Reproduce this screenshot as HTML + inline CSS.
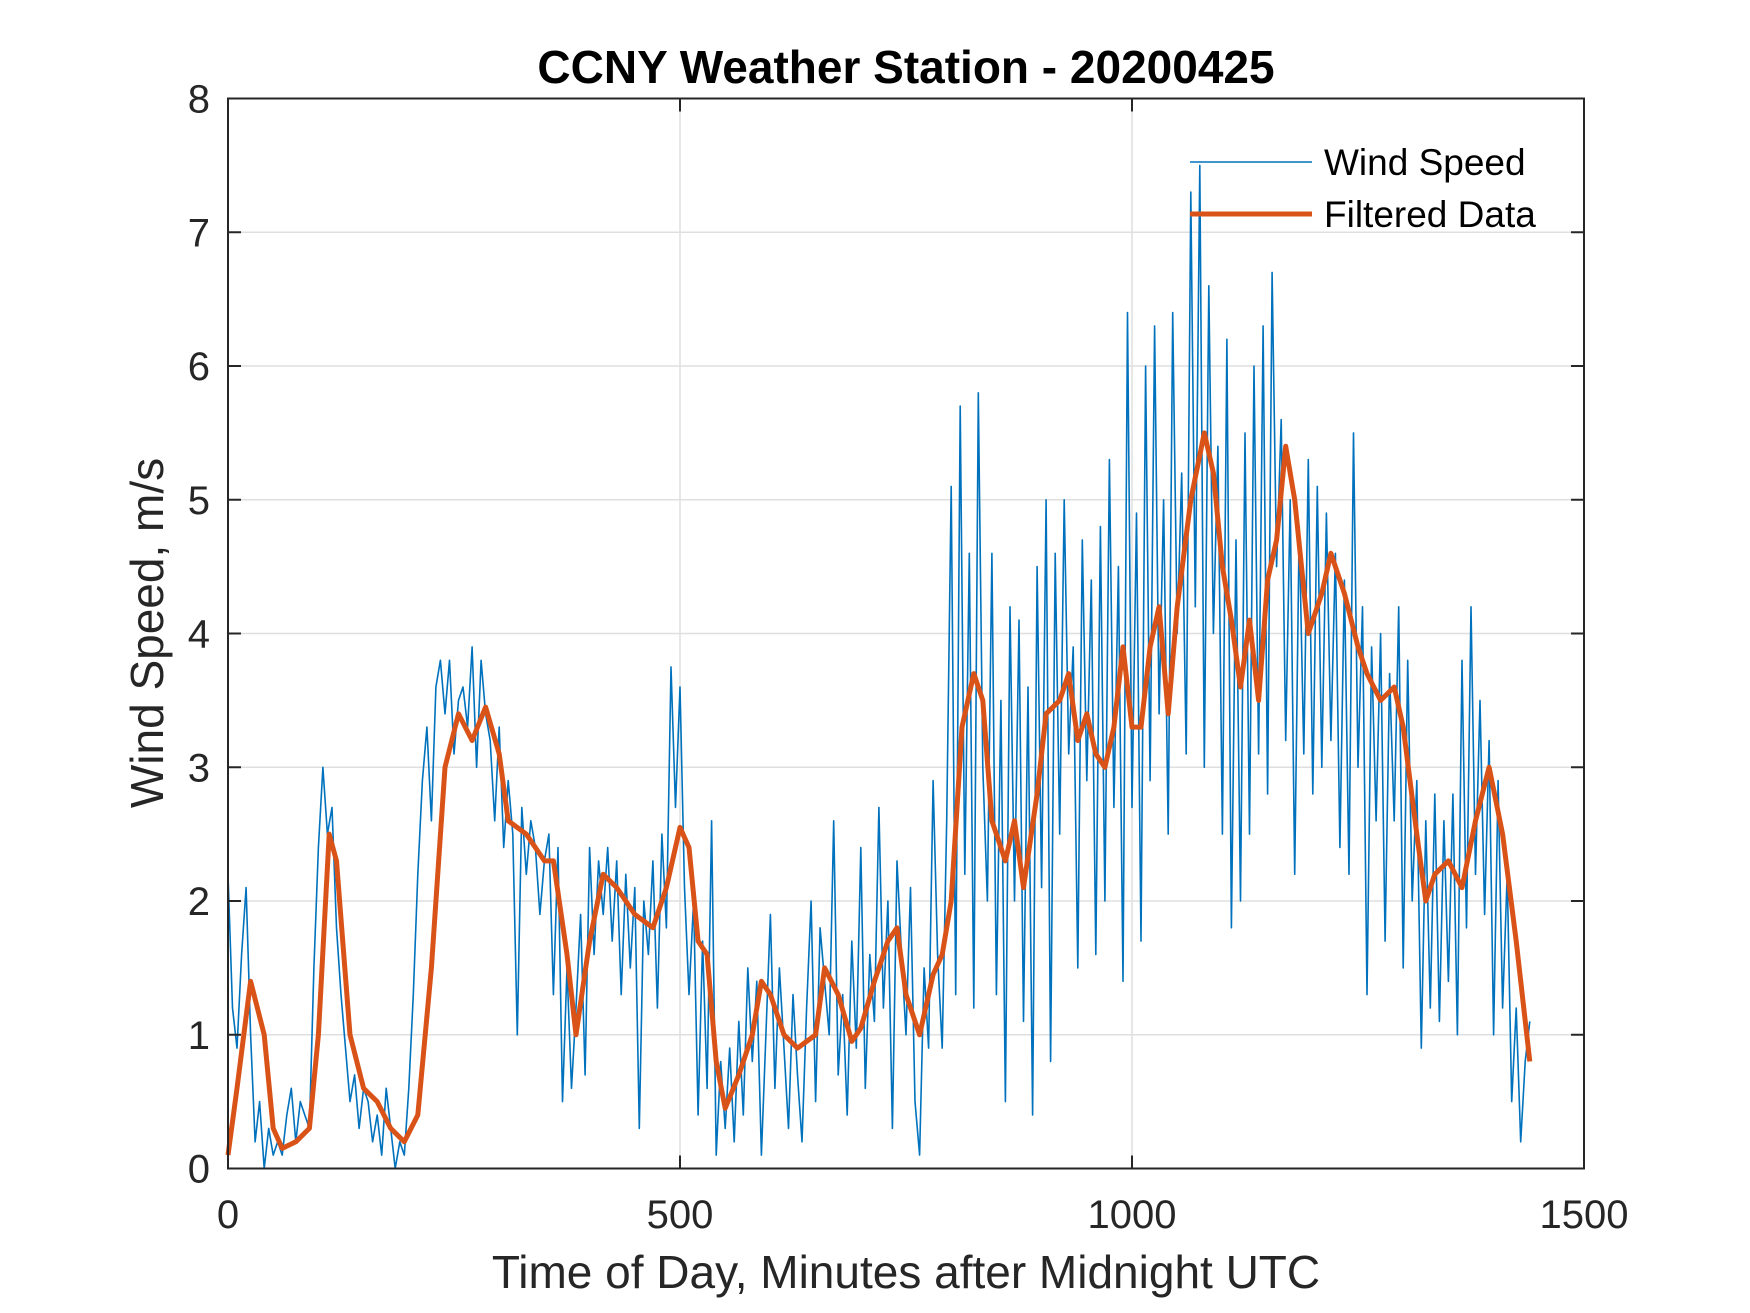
<!DOCTYPE html>
<html><head><meta charset="utf-8"><style>
html,body{margin:0;padding:0;background:#fff}
svg{display:block;font-family:"Liberation Sans",Arial,sans-serif}
</style></head><body>
<svg id="chart" width="1750" height="1313" viewBox="0 0 1750 1313" xmlns="http://www.w3.org/2000/svg">
<rect width="1750" height="1313" fill="#fff"/>
<g id="grid"></g>
<g id="series"></g>
<rect x="228" y="98.5" width="1356" height="1070" fill="none" stroke="#262626" stroke-width="2"/>
<g id="ticks"></g>
<text x="906" y="83" text-anchor="middle" font-size="46" font-weight="bold" fill="#000">CCNY Weather Station - 20200425</text>
<text x="906" y="1288" text-anchor="middle" font-size="46" fill="#262626">Time of Day, Minutes after Midnight UTC</text>
<text transform="translate(163,633) rotate(-90)" text-anchor="middle" font-size="46" fill="#262626">Wind Speed, m/s</text>
<g>
<line x1="1190" y1="162" x2="1312" y2="162" stroke="#0072BD" stroke-width="1.5"/>
<text x="1324" y="175" font-size="37" fill="#000">Wind Speed</text>
<line x1="1190" y1="214" x2="1312" y2="214" stroke="#D95319" stroke-width="5"/>
<text x="1324" y="227" font-size="37" fill="#000">Filtered Data</text>
</g>
</svg>
<script>
const xTicks=[0,500,1000,1500];
const yTicks=[0,1,2,3,4,5,6,7,8];
const rawStep=5;
const rawValues=[
2.2,1.2,0.9,1.6,2.1,1.0,0.2,0.5,0.0,0.3,0.1,0.2,
0.1,0.4,0.6,0.2,0.5,0.4,0.3,1.5,2.4,3.0,2.5,2.7,
1.8,1.3,0.9,0.5,0.7,0.3,0.6,0.5,0.2,0.4,0.1,0.6,
0.3,0.0,0.2,0.1,0.6,1.3,2.2,2.9,3.3,2.6,3.6,3.8,
3.4,3.8,3.1,3.5,3.6,3.3,3.9,3.0,3.8,3.4,3.2,2.6,
3.3,2.4,2.9,2.5,1.0,2.7,2.2,2.6,2.4,1.9,2.3,2.5,
1.3,2.4,0.5,1.5,0.6,1.2,1.9,0.7,2.4,1.6,2.3,1.9,
2.4,1.7,2.3,1.3,2.2,1.5,2.1,0.3,2.0,1.6,2.3,1.2,
2.5,1.8,3.75,2.7,3.6,2.1,1.3,2.0,0.4,1.7,0.6,2.6,
0.1,0.8,0.3,0.9,0.2,1.1,0.4,1.5,0.8,1.4,0.1,1.0,
1.9,0.6,1.5,0.9,0.3,1.3,0.7,0.2,1.2,2.0,0.5,1.8,
1.4,1.0,2.6,0.7,1.3,0.4,1.7,0.9,2.4,0.6,1.6,1.1,
2.7,1.2,2.0,0.3,2.3,1.6,1.0,2.1,0.5,0.1,1.5,0.9,
2.9,1.6,0.9,2.6,5.1,1.3,5.7,2.2,4.6,1.2,5.8,3.0,
2.0,4.6,1.3,3.5,0.5,4.2,2.0,4.1,1.1,3.6,0.4,4.5,
2.1,5.0,0.8,4.6,2.5,5.0,3.1,3.9,1.5,4.7,2.9,4.4,
1.6,4.8,2.0,5.3,2.7,4.5,1.4,6.4,2.7,4.9,1.7,6.0,
2.9,6.3,3.4,5.0,2.5,6.4,4.0,5.2,3.1,7.3,4.2,7.5,
3.0,6.6,4.0,5.4,2.5,6.2,1.8,4.7,2.0,5.5,2.5,6.0,
3.1,6.3,2.8,6.7,4.5,5.6,3.2,5.0,2.2,4.8,3.1,5.3,
2.8,5.1,3.0,4.9,3.2,4.6,2.4,4.4,2.2,5.5,3.0,4.2,
1.3,3.9,2.6,4.0,1.7,3.7,2.6,4.2,1.5,3.8,2.0,2.9,
0.9,2.6,1.2,2.8,1.1,2.6,1.4,2.8,1.0,3.8,1.8,4.2,
2.2,3.5,1.9,3.2,1.0,2.9,1.2,2.2,0.5,1.2,0.2,0.8,
1.1];
const filtT=[0,10,25,40,50,60,75,90,100,112,120,135,150,165,180,195,210,225,240,255,270,285,300,310,330,350,360,375,385,400,415,430,450,470,485,500,510,520,530,540,550,565,580,590,600,615,630,650,660,675,690,700,715,730,740,750,765,780,790,800,812,825,835,845,860,870,880,895,905,920,930,940,950,960,970,980,990,1000,1010,1020,1030,1040,1050,1065,1080,1090,1100,1110,1120,1130,1140,1150,1160,1170,1180,1195,1210,1220,1235,1250,1260,1275,1290,1300,1315,1325,1335,1350,1365,1380,1395,1410,1425,1440];
const filtV=[0.1,0.6,1.4,1.0,0.3,0.15,0.2,0.3,1.0,2.5,2.3,1.0,0.6,0.5,0.3,0.2,0.4,1.5,3.0,3.4,3.2,3.45,3.1,2.6,2.5,2.3,2.3,1.6,1.0,1.7,2.2,2.1,1.9,1.8,2.1,2.55,2.4,1.7,1.6,0.8,0.45,0.7,1.0,1.4,1.3,1.0,0.9,1.0,1.5,1.3,0.95,1.05,1.4,1.7,1.8,1.3,1.0,1.45,1.6,2.0,3.3,3.7,3.5,2.6,2.3,2.6,2.1,2.8,3.4,3.5,3.7,3.2,3.4,3.1,3.0,3.3,3.9,3.3,3.3,3.9,4.2,3.4,4.2,5.0,5.5,5.2,4.5,4.1,3.6,4.1,3.5,4.4,4.7,5.4,5.0,4.0,4.3,4.6,4.3,3.9,3.7,3.5,3.6,3.3,2.5,2.0,2.2,2.3,2.1,2.6,3.0,2.5,1.7,0.8];

const X0=228,X1=1584,Y0=1168.5,Y1=98.5;
const xs=v=>X0+(v-0)/(1500-0)*(X1-X0);
const ys=v=>Y0-(v-0)/(8-0)*(Y0-Y1);
const NS="http://www.w3.org/2000/svg";
function mk(tag,parent,attrs){const e=document.createElementNS(NS,tag);for(const k in attrs)e.setAttribute(k,attrs[k]);parent.appendChild(e);return e;}
const grid=document.getElementById('grid'),ticks=document.getElementById('ticks'),series=document.getElementById('series');
xTicks.forEach(t=>{
  const x=xs(t);
  const g=mk('line',grid,{x1:x,x2:x,y1:Y1,y2:Y0,stroke:'#dfdfdf','stroke-width':1.5});
  
  
  const tk=mk('path',ticks,{d:`M${x},${Y0}V${Y0-13}M${x},${Y1}V${Y1+13}`,stroke:'#262626','stroke-width':2});
  
  
  const lb=mk('text',ticks,{x:x,y:1228,'text-anchor':'middle','font-size':40,fill:'#262626'});
  lb.textContent=t;
  
  
});
yTicks.forEach(t=>{
  const y=ys(t);
  const g=mk('line',grid,{x1:X0,x2:X1,y1:y,y2:y,stroke:'#dfdfdf','stroke-width':1.5});
  
  
  const tk=mk('path',ticks,{d:`M${X0},${y}H${X0+13}M${X1},${y}H${X1-13}`,stroke:'#262626','stroke-width':2});
  
  
  const lb=mk('text',ticks,{x:210,y:y+14,'text-anchor':'end','font-size':40,fill:'#262626'});
  lb.textContent=t;
  
  
});
const rawD=rawValues.map((v,i)=>(i?'L':'M')+xs(i*rawStep).toFixed(1)+','+ys(v).toFixed(1)).join('');
const raw=mk('path',series,{d:rawD,fill:'none',stroke:'#0072BD','stroke-width':1.6,'stroke-linejoin':'round'});


const fD=filtT.map((t,i)=>(i?'L':'M')+xs(t).toFixed(1)+','+ys(filtV[i]).toFixed(1)).join('');
const f=mk('path',series,{d:fD,fill:'none',stroke:'#D95319','stroke-width':5,'stroke-linejoin':'round'});


</script>
</body></html>
